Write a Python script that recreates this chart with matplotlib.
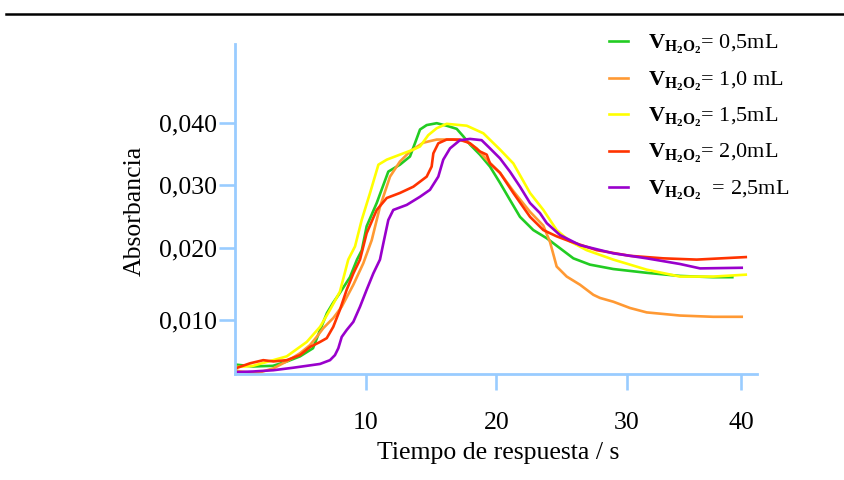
import matplotlib
matplotlib.use("Agg")
import matplotlib.pyplot as plt
from matplotlib.lines import Line2D

plt.rcParams['font.family'] = ['Liberation Serif', 'DejaVu Serif']
plt.rcParams['mathtext.fontset'] = 'custom'
plt.rcParams['mathtext.rm'] = 'Liberation Serif'
plt.rcParams['mathtext.bf'] = 'Liberation Serif:bold'
plt.rcParams['mathtext.it'] = 'Liberation Serif:italic'

# tiempo (s) / absorbancia
t_05 = [0, 1.34, 2.87, 3.95, 4.94, 5.94, 6.48, 7.01, 7.47, 8.0, 8.77, 9.31, 9.68, 10.05,
        10.82, 11.71, 12.6, 13.37, 13.75, 14.14, 14.65, 15.42, 16.18, 16.95, 17.46, 17.97,
        18.73, 19.5, 20.27, 21.03, 21.8, 22.82, 23.85, 24.87, 25.89, 27.16, 28.95, 31.5,
        34.06, 36.6, 38.07]
a_05 = [.0015, .0012, .0013, .0020, .0028, .0041, .0070, .0097, .0113, .0129, .0154, .0182,
        .0197, .0235, .0272, .0322, .0333, .0346, .0367, .0389, .0396, .0399, .0395, .0390,
        .0378, .0365, .0349, .0330, .0304, .0277, .0250, .0229, .0216, .0200, .0184, .0174,
        .0167, .0161, .0156, .0154, .0154]

t_10 = [0, 0.35, 1.6, 2.9, 3.92, 4.94, 5.71, 6.22, 6.73, 7.49, 8.14, 9.03, 9.79, 10.44,
        11.07, 11.84, 12.6, 13.37, 14.39, 15.42, 16.69, 17.72, 18.48, 19.25, 20.27, 21.29,
        22.57, 23.59, 24.1, 24.61, 25.38, 26.4, 27.42, 27.93, 28.95, 30.23, 31.51, 34.06,
        36.61, 38.79]
a_10 = [.0006, .0004, .0001, .0009, .0020, .0033, .0046, .0059, .0073, .0089, .0107, .0142,
        .0176, .0213, .0266, .0314, .0338, .0354, .0368, .0373, .0373, .0370, .0359, .0341,
        .0320, .0291, .0258, .0236, .0210, .0171, .0155, .0142, .0126, .0121, .0115, .0105,
        .0098, .0093, .0091, .0091]

t_15 = [0, 1.34, 3.92, 5.46, 6.48, 7.24, 8.0, 8.64, 9.16, 9.67, 10.31, 10.95, 11.59, 12.6,
        13.63, 14.14, 14.77, 15.42, 16.18, 17.72, 18.99, 20.27, 21.29, 22.57, 23.59, 24.61,
        25.63, 26.91, 28.95, 31.51, 34.06, 36.61, 39.1]
a_15 = [.0011, .0013, .0028, .0051, .0075, .0102, .0131, .0182, .0203, .0245, .0288, .0333,
        .0341, .0349, .0357, .0362, .0380, .0391, .0398, .0395, .0383, .0357, .0335, .0288,
        .0261, .0229, .0211, .0197, .0182, .0166, .0155, .0155, .0158]

t_20 = [0, 1.11, 2.13, 2.9, 3.92, 4.94, 5.71, 6.48, 6.99, 7.49, 8.0, 8.52, 9.03, 9.54,
        10.05, 10.82, 11.59, 12.6, 13.63, 14.65, 15.03, 15.16, 15.54, 16.18, 17.2, 17.97,
        18.73, 19.25, 19.5, 20.27, 21.29, 22.57, 23.59, 24.61, 25.63, 27.68, 30.23, 32.78,
        35.34, 39.1]
a_20 = [.0009, .0017, .0022, .0020, .0022, .0030, .0043, .0051, .0057, .0075, .0102, .0134,
        .0160, .0182, .0224, .0261, .0280, .0288, .0298, .0314, .0330, .0351, .0367, .0373,
        .0373, .0367, .0354, .0349, .0335, .0320, .0288, .0250, .0229, .0219, .0211, .0197,
        .0188, .0184, .0182, .0186]

t_25 = [0, 1.36, 2.9, 4.43, 5.46, 6.48, 7.24, 7.62, 7.88, 8.14, 8.52, 9.03, 9.54, 10.05,
        10.56, 11.07, 11.33, 11.71, 12.09, 13.12, 14.14, 14.9, 15.54, 15.92, 16.44, 17.2,
        17.97, 18.86, 19.5, 20.27, 21.03, 21.8, 22.57, 23.33, 23.85, 24.87, 26.4, 28.95,
        31.51, 34.06, 35.6, 38.79]
a_25 = [.0003, .0004, .0006, .0010, .0013, .0016, .0022, .0030, .0041, .0059, .0070, .0083,
        .0107, .0134, .0160, .0182, .0208, .0245, .0261, .0269, .0282, .0293, .0314, .0341,
        .0359, .0372, .0374, .0372, .0359, .0343, .0322, .0298, .0272, .0256, .0240, .0221,
        .0205, .0192, .0184, .0175, .0168, .0169]

labels = [r'$\mathbf{V}_{\mathbf{H_2O_2}}$= 0,5mL',
          r'$\mathbf{V}_{\mathbf{H_2O_2}}$= 1,0 mL',
          r'$\mathbf{V}_{\mathbf{H_2O_2}}$= 1,5mL',
          r'$\mathbf{V}_{\mathbf{H_2O_2}}$= 2,0mL',
          r'$\mathbf{V}_{\mathbf{H_2O_2}}$  = 2,5mL']
colors = ['#22cc22', '#ff9933', '#ffff00', '#ff3300', '#9900cc']

# tick positions as they sit in the picture (last ones are squeezed)
xtick_pos = [10, 20, 30, 38.75]
xtick_lab = ['10', '20', '30', '40']
ytick_pos = [0.00855, 0.020, 0.030, 0.040]
ytick_lab = ['0,010', '0,020', '0,030', '0,040']

axis_col = '#99ccff'

fig = plt.figure(figsize=(8.45, 4.8), dpi=100)
ax = fig.add_axes([235.5 / 845, 106 / 480, 522 / 845, 330 / 480])

series = [(t_05, a_05), (t_10, a_10), (t_15, a_15), (t_20, a_20), (t_25, a_25)]
for (t, a), lab, c in zip(series, labels, colors):
    ax.plot(t, a, color=c, lw=1.9, label=lab)

ax.set_xlim(0, 40)
ax.set_ylim(0, 0.0525)
ax.set_xticks(xtick_pos)
ax.set_xticklabels(xtick_lab)
ax.set_yticks(ytick_pos)
ax.set_yticklabels(ytick_lab)

for s in ['top', 'right']:
    ax.spines[s].set_visible(False)
for s in ['left', 'bottom']:
    ax.spines[s].set_color(axis_col)
    ax.spines[s].set_linewidth(2.0)
ax.tick_params(axis='both', colors=axis_col, labelcolor='black', width=1.9,
               length=11.5, labelsize=18.5)
ax.tick_params(axis='x', pad=16)
ax.tick_params(axis='y', pad=1.5)

ax.set_xlabel('Tiempo de respuesta / s', fontsize=18.5)
ax.xaxis.set_label_coords(0.504, -0.207)
ax.set_ylabel('Absorbancia', fontsize=18.5)
ax.yaxis.set_label_coords(-0.172, 0.494)

ax.legend(loc='upper left', bbox_to_anchor=(609 / 845, 1 - 33 / 480),
          bbox_transform=fig.transFigure, frameon=False, fontsize=16,
          handlelength=0.85, handletextpad=0.9, labelspacing=0.6, borderpad=0,
          borderaxespad=0)

# black rule across the top of the figure
fig.add_artist(Line2D([6 / 845, 1], [1 - 14 / 480, 1 - 14 / 480],
                      transform=fig.transFigure, color='black', lw=1.8))

fig.savefig('out.png', dpi=100)
